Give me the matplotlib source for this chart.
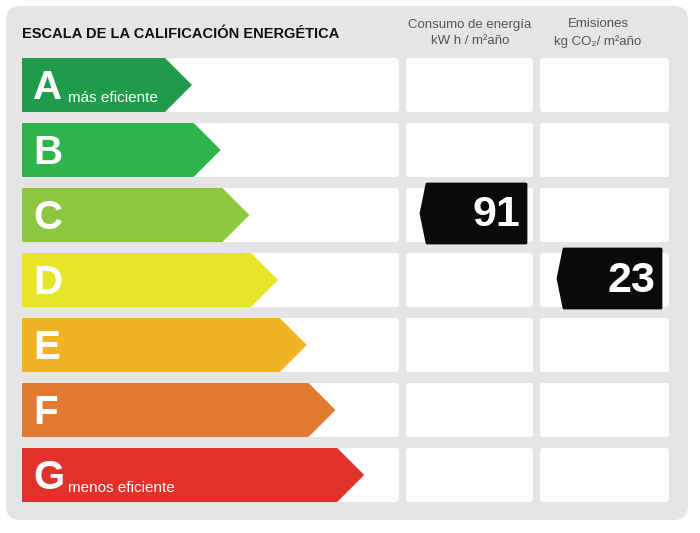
import matplotlib.pyplot as plt
from matplotlib.patches import FancyBboxPatch, Polygon

letters = ["A", "B", "C", "D", "E", "F", "G"]
colors = ["#1f9b4b", "#2fb34b", "#8dc63f", "#e7e52a", "#f0b325", "#e27a31", "#e0322b"]
subtitles = {"A": "más eficiente", "G": "menos eficiente"}
consumo_class, consumo_value = "C", 91
emision_class, emision_value = "D", 23

SANS = ["Liberation Sans", "DejaVu Sans"]

fig = plt.figure(figsize=(7, 5.33), dpi=100)
ax = fig.add_axes([0, 0, 1, 1])
ax.set_xlim(0, 700)
ax.set_ylim(533, 0)
ax.axis("off")

ax.add_patch(FancyBboxPatch((6, 6), 682, 514, boxstyle="round,pad=0,rounding_size=14",
                            fc="#e5e5e5", ec="none"))

ax.text(22, 34, "ESCALA DE LA CALIFICACIÓN ENERGÉTICA", fontsize=10.5, fontweight="bold",
        family=SANS, va="center", ha="left", color="#111")
ax.text(470, 33, "Consumo de energía\nkW h / m²año", fontsize=9.5, ha="center", va="center",
        color="#555", linespacing=1.5, family=SANS)
ax.text(598, 33, "Emisiones\nkg CO₂/ m²año", fontsize=9.5, ha="center", va="center",
        color="#555", linespacing=1.5, family=SANS)

row_top, pitch, h = 58, 65, 54
for i, (let, col) in enumerate(zip(letters, colors)):
    y = row_top + i * pitch
    for x0, w in [(22, 377), (406, 127), (540, 129)]:
        ax.add_patch(FancyBboxPatch((x0, y), w, h, boxstyle="round,pad=0,rounding_size=3",
                                    fc="white", ec="none"))
    tip = 192 + i * 28.7
    ax.add_patch(Polygon([(22, y), (tip - 27, y), (tip, y + h / 2), (tip - 27, y + h), (22, y + h)],
                         closed=True, fc=col, ec="none"))
    ax.text(33, y + h / 2 + 3, let, fontsize=29, fontweight="bold", color="white",
            ha="left", va="center", family=SANS)
    if let in subtitles:
        ax.text(68, y + h - 14, subtitles[let], fontsize=11, color="white", ha="left",
                va="center", family=SANS)


def badge(x0, x1, cls, val):
    i = letters.index(cls)
    y0 = row_top + i * pitch - 4
    y1 = y0 + 59
    ax.add_patch(Polygon([(x0 + 6, y0), (x1, y0), (x1, y1), (x0 + 6, y1), (x0, (y0 + y1) / 2)],
                         closed=True, fc="#0a0a0a", ec="#0a0a0a", lw=2, joinstyle="round"))
    ax.text(x1 - 6, (y0 + y1) / 2 + 2, str(val), fontsize=31, fontweight="bold", color="white",
            ha="right", va="center", family=SANS)


badge(421, 526, consumo_class, consumo_value)
badge(558, 661, emision_class, emision_value)

fig.savefig("out.png", dpi=100)
